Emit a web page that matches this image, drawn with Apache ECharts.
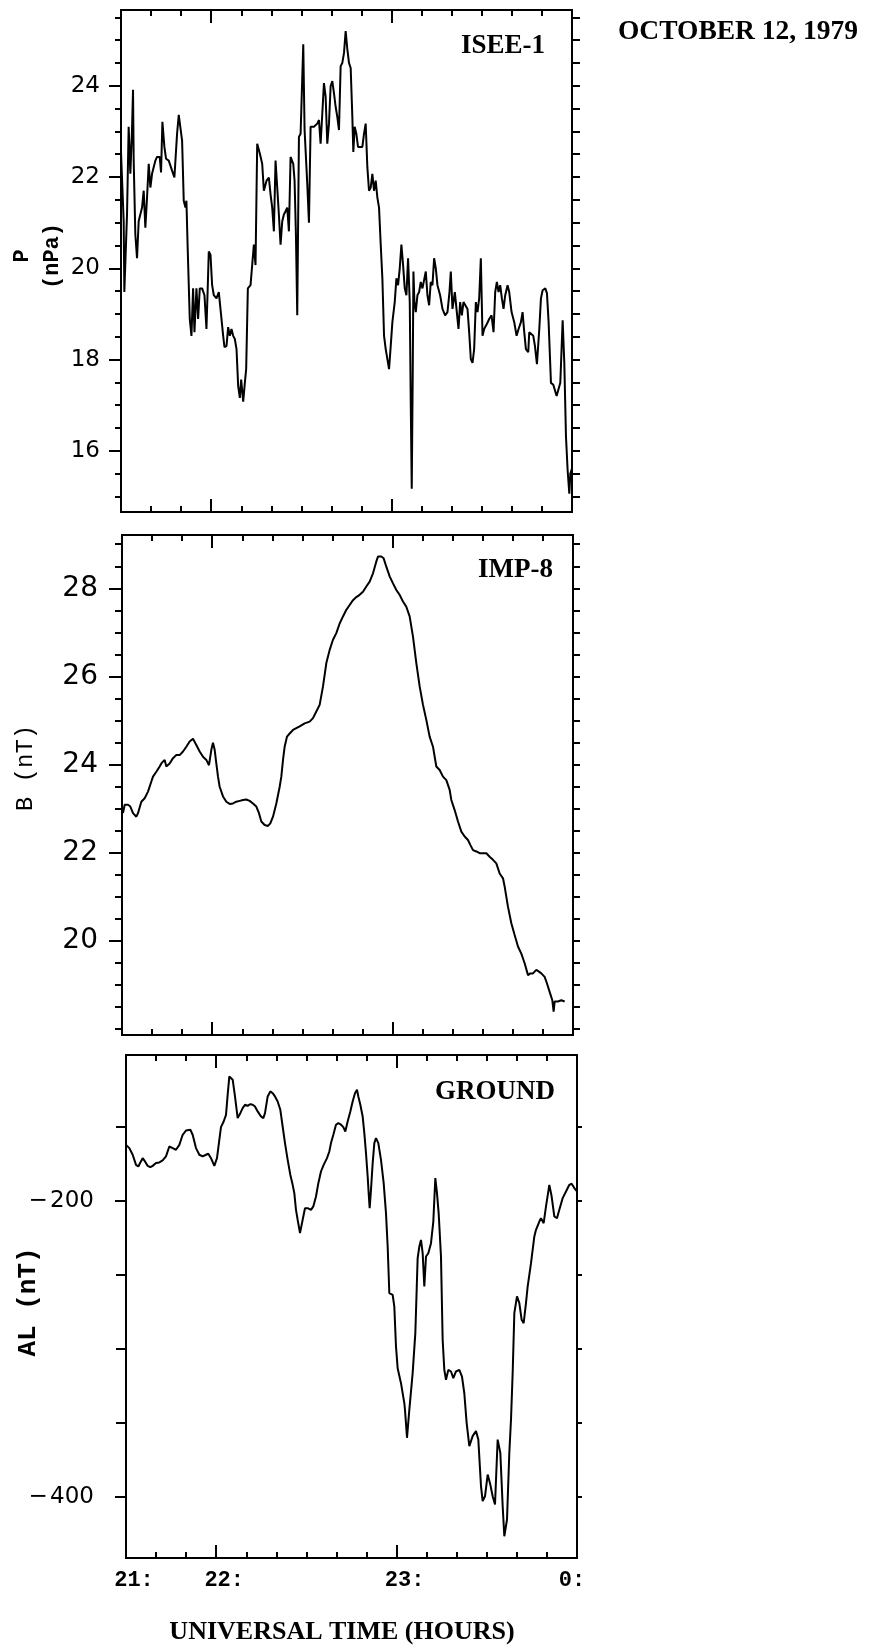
<!DOCTYPE html>
<html>
<head>
<meta charset="utf-8">
<script src="https://cdn.jsdelivr.net/npm/echarts@6/dist/echarts.min.js"></script>
<style>
  html, body { margin: 0; padding: 0; background: #fff; }
  #chart { width: 873px; height: 1649px; }
</style>
</head>
<body>
<div id="chart"></div>
<script>
// time axis: minutes after 21:00 (panel spans 21:30 .. 24:00)
const xMinor = [30, 40, 50, 60, 70, 80, 90, 100, 110, 120, 130, 140, 150, 160, 170, 180];
const xMajor = [60, 120];
const xLabelValues = [30, 60, 120, 180];
const xLabelText = ["21:", "22:", "23:", "{z|0:}"];

const pMajor = [16, 18, 20, 22, 24];
const pMinor = [15, 15.5, 16, 16.5, 17, 17.5, 18, 18.5, 19, 19.5, 20, 20.5, 21, 21.5, 22, 22.5, 23, 23.5, 24, 24.5, 25, 25.5];
const bMajor = [20, 22, 24, 26, 28];
const bMinor = [18, 18.5, 19, 19.5, 20, 20.5, 21, 21.5, 22, 22.5, 23, 23.5, 24, 24.5, 25, 25.5, 26, 26.5, 27, 27.5, 28, 28.5, 29];
const alMajor = [-400, -200];
const alMinor = [-400, -350, -300, -250, -200, -150];

// ISEE-1 solar wind pressure P (nPa)
const pPoints = [
  [30.00,22.55],[30.33,22.51],[30.89,21.03],[31.11,19.48],[32.00,21.18],[32.55,23.10],[33.11,22.07],[33.66,23.03],[34.00,23.91],[34.22,22.36],
  [34.77,20.74],[35.33,20.22],[35.88,21.03],[37.00,21.33],[37.55,21.70],[38.10,20.89],[38.66,21.55],[39.22,22.29],[39.77,21.77],[40.33,22.07],
  [41.44,22.36],[41.99,22.44],[42.88,22.44],[43.32,22.10],[43.77,23.21],[44.43,22.66],[44.99,22.40],[45.88,22.36],[46.99,22.14],[47.76,21.99],
  [48.65,22.95],[49.21,23.36],[49.76,23.32],[50.32,22.80],[50.87,21.48],[51.43,21.33],[51.76,21.48],[52.21,20.37],[52.87,18.89],[53.43,18.52],
  [53.98,19.56],[54.43,18.60],[55.09,19.56],[55.65,18.89],[56.20,19.56],[56.98,19.56],[57.76,19.41],[58.42,18.67],[58.87,19.63],[59.20,20.37],
  [59.76,20.30],[60.31,19.63],[60.87,19.41],[61.75,19.34],[62.53,19.48],[63.09,19.52],[63.98,18.52],[64.42,18.27],[65.09,18.30],[65.64,18.71],
  [66.20,18.52],[66.75,18.67],[67.31,18.52],[67.86,18.45],[68.42,18.23],[68.97,17.42],[69.53,17.16],[69.97,17.56],[70.64,17.08],[71.19,17.49],
  [71.63,17.79],[72.19,19.56],[73.08,19.63],[73.63,20.07],[74.19,20.52],[74.74,20.07],[75.30,22.73],[76.19,22.51],[76.96,22.29],[77.52,21.70],
  [78.41,21.92],[79.18,21.99],[79.74,21.62],[80.29,21.33],[80.85,20.81],[81.40,22.36],[81.96,21.77],[82.51,21.18],[83.07,20.52],[83.63,21.03],
  [84.18,21.18],[84.74,21.25],[85.29,21.33],[85.85,20.81],[86.40,22.44],[87.29,22.29],[87.73,21.92],[88.18,20.74],[88.62,18.97],[89.18,22.88],
  [89.73,22.95],[90.07,23.69],[90.62,24.91],[91.06,23.03],[91.95,21.85],[92.51,21.00],[93.06,23.10],[94.17,23.10],[95.28,23.17],[95.84,23.25],
  [96.39,22.73],[96.95,23.39],[97.50,24.06],[98.06,23.76],[98.61,22.73],[99.17,23.17],[99.72,23.99],[100.28,24.10],[100.83,23.84],[101.39,23.54],
  [101.94,23.32],[102.50,23.03],[103.05,24.43],[103.61,24.50],[104.17,24.72],[104.72,25.20],[105.28,24.80],[105.83,24.50],[106.39,24.39],[106.94,23.32],
  [107.27,22.55],[107.72,23.10],[108.27,22.95],[108.83,22.66],[109.38,22.66],[110.27,22.66],[110.83,22.95],[111.38,23.17],[111.94,22.21],[112.49,21.70],
  [113.05,21.77],[113.60,22.07],[114.16,21.70],[114.71,21.92],[115.27,21.55],[115.82,21.33],[116.38,20.52],[116.93,19.78],[117.49,18.52],[118.04,18.23],
  [118.60,18.01],[119.15,17.79],[119.71,18.30],[120.26,18.82],[121.04,19.26],[121.60,19.78],[122.15,19.63],[122.71,20.00],[123.26,20.52],[123.82,20.07],
  [124.37,19.56],[124.93,19.41],[125.48,20.22],[126.04,19.26],[126.37,17.05],[126.70,15.17],[127.04,17.79],[127.26,19.93],[127.59,19.26],[128.04,19.04],
  [128.59,19.41],[129.15,19.48],[129.70,19.70],[130.26,19.56],[130.81,19.56],[131.37,19.93],[131.92,19.41],[132.48,19.19],[133.03,19.70],[133.59,19.63],
  [134.14,20.22],[134.70,20.00],[135.25,19.63],[136.14,19.41],[136.92,19.11],[137.80,18.97],[138.58,19.04],[139.25,19.48],[139.69,19.93],[140.25,19.11],
  [141.03,19.48],[141.69,19.04],[142.25,18.67],[142.80,19.26],[143.36,18.97],[143.91,19.26],[144.47,19.26],[145.24,19.11],[145.80,18.60],[146.35,18.01],
  [146.91,17.93],[147.46,18.23],[148.02,19.26],[148.57,19.04],[149.13,19.34],[149.68,20.22],[150.24,18.52],[150.79,18.67],[151.68,18.78],[152.46,18.89],
  [153.24,18.97],[153.90,18.60],[154.46,19.48],[155.01,19.70],[155.57,19.48],[156.12,19.63],[156.68,19.34],[157.23,19.11],[157.79,19.41],[158.57,19.63],
  [159.12,19.48],[159.90,19.04],[160.79,18.82],[161.57,18.52],[162.23,18.67],[163.01,18.82],[163.56,19.04],[164.12,18.60],[164.67,18.23],[165.45,18.16],
  [165.78,18.60],[166.34,18.60],[167.12,18.52],[167.67,18.30],[168.34,17.90],[169.12,18.67],[169.67,19.34],[170.23,19.52],[171.12,19.56],[171.67,19.45],
  [172.22,18.82],[173.00,17.49],[173.78,17.45],[174.33,17.42],[174.89,17.20],[175.44,17.23],[176.11,17.49],[176.89,18.86],[177.44,17.93],[178.00,16.31],
  [178.55,15.57],[179.11,15.06],[179.44,15.50],[180.00,15.61]
];

// IMP-8 field magnitude B (nT)
const bPoints = [
  [30.33,22.89],[30.89,23.08],[32.00,23.08],[32.77,23.04],[33.66,22.89],[34.77,22.81],[35.32,22.89],[36.43,23.15],[37.54,23.23],[38.65,23.38],
  [39.76,23.61],[40.31,23.72],[41.42,23.83],[42.53,23.95],[43.08,24.02],[44.19,24.10],[44.74,23.95],[45.85,24.02],[46.96,24.14],[48.07,24.21],
  [49.18,24.21],[50.29,24.29],[51.40,24.40],[52.50,24.52],[53.61,24.58],[54.72,24.44],[55.83,24.29],[56.94,24.17],[58.05,24.10],[58.93,23.98],
  [59.71,24.33],[60.26,24.49],[60.82,24.33],[61.37,24.02],[61.93,23.72],[62.48,23.49],[63.59,23.27],[64.70,23.15],[65.81,23.10],[66.92,23.11],
  [68.02,23.15],[69.13,23.17],[70.24,23.19],[71.35,23.20],[72.46,23.17],[73.57,23.11],[74.68,23.04],[75.56,22.89],[76.34,22.70],[77.45,22.62],
  [78.56,22.60],[79.33,22.66],[80.22,22.81],[81.33,23.11],[82.44,23.49],[82.99,23.72],[83.55,24.10],[84.10,24.40],[84.88,24.63],[85.76,24.70],
  [86.87,24.78],[87.98,24.82],[89.09,24.86],[90.75,24.93],[92.41,24.97],[93.52,25.05],[94.63,25.20],[95.74,25.35],[96.85,25.77],[97.96,26.30],
  [99.07,26.60],[100.17,26.83],[101.28,26.98],[102.39,27.20],[103.50,27.36],[104.61,27.51],[105.72,27.62],[106.83,27.73],[107.94,27.80],[109.04,27.85],
  [110.15,27.92],[111.26,28.04],[112.37,28.15],[113.48,28.34],[114.59,28.61],[115.14,28.72],[116.25,28.72],[117.02,28.68],[117.91,28.49],[119.02,28.27],
  [120.13,28.11],[121.24,27.96],[122.34,27.85],[123.45,27.70],[124.56,27.58],[125.67,27.36],[126.78,26.90],[127.89,26.30],[129.00,25.77],[130.11,25.35],
  [131.21,25.01],[132.32,24.63],[133.43,24.40],[134.54,23.95],[135.65,23.87],[136.76,23.72],[137.87,23.64],[138.98,23.42],[139.53,23.19],[140.64,22.96],
  [141.75,22.70],[142.86,22.47],[143.97,22.36],[145.07,22.28],[145.85,22.17],[146.74,22.05],[147.85,22.02],[148.95,21.98],[150.06,21.98],[151.17,21.98],
  [152.28,21.90],[153.39,21.83],[154.50,21.75],[155.61,21.52],[156.72,21.41],[157.27,21.22],[158.38,20.76],[159.49,20.39],[160.59,20.12],[161.70,19.86],
  [162.81,19.70],[163.92,19.48],[165.03,19.21],[165.80,19.25],[166.69,19.25],[167.80,19.33],[168.68,19.29],[169.46,19.25],[170.57,19.17],[171.35,19.02],
  [172.23,18.83],[173.12,18.64],[173.56,18.38],[173.89,18.61],[175.00,18.61],[176.11,18.64],[177.22,18.61]
];

// ground AL index (nT)
const alPoints = [
  [30.00,-162.2],[31.11,-164.4],[32.22,-168.9],[33.33,-175.7],[34.10,-176.8],[34.77,-174.1],[35.54,-171.2],[36.32,-173.4],[37.21,-176.4],[38.09,-177.3],
  [38.87,-176.4],[39.98,-174.5],[41.09,-174.1],[42.19,-172.7],[43.30,-170.0],[44.41,-163.3],[45.52,-164.4],[46.63,-165.5],[47.74,-162.2],[48.85,-155.4],
  [49.95,-152.5],[51.40,-152.0],[52.17,-155.4],[53.28,-164.4],[54.39,-168.9],[55.50,-170.0],[56.61,-168.9],[57.38,-168.2],[58.27,-171.2],[59.38,-176.4],
  [60.26,-171.2],[61.04,-158.8],[61.59,-150.2],[62.48,-146.4],[63.26,-141.9],[63.81,-128.4],[64.37,-116.0],[64.92,-114.9],[65.48,-118.2],[66.25,-129.5],
  [67.14,-144.1],[68.02,-140.8],[68.80,-137.4],[69.58,-135.1],[70.46,-135.8],[71.35,-134.7],[72.13,-135.1],[72.90,-136.3],[73.79,-139.6],[74.90,-143.0],
  [75.67,-144.1],[76.23,-140.8],[77.12,-129.5],[78.00,-126.1],[78.78,-127.3],[79.55,-129.5],[80.44,-132.9],[81.33,-138.5],[82.10,-149.8],[82.88,-161.0],
  [83.77,-172.3],[84.65,-182.4],[85.43,-189.2],[85.98,-194.8],[86.54,-206.1],[87.09,-212.8],[87.87,-221.8],[88.76,-212.8],[89.53,-205.0],[90.42,-205.0],
  [91.53,-206.1],[92.30,-203.8],[93.19,-197.1],[93.97,-188.1],[94.85,-180.2],[95.74,-175.7],[96.85,-171.2],[97.62,-166.7],[98.18,-161.0],[98.96,-155.4],
  [99.84,-148.6],[100.62,-147.5],[101.51,-148.6],[102.28,-150.2],[102.95,-153.2],[103.72,-146.4],[104.61,-139.6],[105.38,-132.9],[106.16,-127.3],[106.83,-125.0],
  [107.27,-129.5],[107.94,-135.1],[108.71,-143.0],[109.27,-154.3],[109.82,-167.8],[110.38,-183.6],[110.71,-194.8],[111.04,-205.0],[111.48,-192.6],[112.04,-174.5],
  [112.59,-161.0],[113.15,-157.7],[113.92,-161.0],[114.81,-172.3],[115.70,-188.1],[116.47,-208.3],[117.03,-230.9],[117.58,-262.4],[118.69,-263.5],[119.24,-271.4],
  [119.80,-298.4],[120.35,-313.1],[121.46,-323.2],[122.57,-336.7],[122.79,-341.2],[123.46,-360.1],[124.23,-341.2],[125.34,-316.4],[126.23,-289.4],[127.00,-238.7],
  [127.56,-230.9],[128.11,-226.4],[128.67,-235.4],[129.22,-257.9],[129.78,-237.6],[130.55,-235.4],[131.44,-228.6],[132.21,-214.0],[132.88,-184.7],[133.43,-194.8],
  [133.99,-208.3],[134.76,-237.6],[135.32,-293.9],[135.87,-314.2],[136.43,-320.9],[137.20,-314.2],[138.09,-315.3],[138.87,-319.8],[139.75,-315.3],[140.86,-314.2],
  [141.75,-318.7],[142.52,-330.0],[143.30,-350.2],[144.19,-365.8],[145.29,-359.0],[146.40,-355.6],[147.18,-361.3],[148.07,-392.8],[148.62,-402.9],[149.40,-399.6],
  [150.29,-384.9],[151.17,-391.7],[151.95,-399.6],[152.73,-405.2],[153.61,-361.3],[154.50,-370.3],[155.28,-406.3],[155.83,-426.6],[156.72,-415.3],[157.49,-370.3],
  [158.05,-347.7],[158.60,-316.4],[159.16,-275.9],[160.04,-264.6],[160.82,-269.1],[161.59,-280.4],[162.26,-282.7],[163.03,-269.1],[163.59,-257.9],[164.70,-242.1],
  [165.81,-224.1],[166.36,-219.6],[167.47,-214.0],[168.02,-211.7],[168.91,-215.1],[169.69,-203.8],[170.80,-189.2],[171.57,-197.1],[172.46,-210.6],[173.35,-211.7],
  [174.12,-206.1],[175.23,-198.2],[176.34,-193.7],[177.45,-189.2],[178.22,-188.5],[179.11,-191.4],[180.00,-193.7]
];

const black = "#000";
const grids = [
  { left: 121, top: 10, width: 451, height: 502 },
  { left: 122, top: 535, width: 451, height: 500 },
  { left: 126, top: 1055, width: 451, height: 503 },
];

function xAxes(gi, withLabels) {
  const base = {
    gridIndex: gi, type: "value", min: 30, max: 180,
    splitLine: { show: false },
    axisLine: { show: true, onZero: false, lineStyle: { color: black, width: 2 } },
    axisLabel: { show: false },
  };
  const tick = (vals, len) => ({
    show: true, inside: true, length: len, customValues: vals,
    lineStyle: { color: black, width: 2 },
  });
  const bottomMinor = Object.assign({}, base, { position: "bottom", axisTick: tick(xMinor, 6) });
  if (withLabels) {
    bottomMinor.axisLabel = {
      show: true,
      customValues: xLabelValues,
      formatter: (v) => xLabelText[xLabelValues.indexOf(v)],
      fontFamily: "Liberation Mono",
      fontWeight: "bold",
      fontSize: 22,
      color: black,
      margin: 11,
      padding: [0, 0, 0, 16],
      rich: { z: { fontFamily: "Liberation Mono", fontWeight: "bold", fontSize: 22, color: black, padding: [0, 26, 0, 0] } },
    };
  }
  return [
    bottomMinor,
    Object.assign({}, base, { position: "bottom", axisTick: tick(xMajor, 13) }),
    Object.assign({}, base, { position: "top", axisTick: tick(xMinor, 6) }),
    Object.assign({}, base, { position: "top", axisTick: tick(xMajor, 13) }),
  ];
}

function yAxes(gi, min, max, major, minor, s) {
  const base = {
    gridIndex: gi, type: "value", min: min, max: max,
    splitLine: { show: false },
    axisLine: { show: true, onZero: false, lineStyle: { color: black, width: 2 } },
    axisLabel: { show: false },
  };
  const tick = (vals, len) => ({
    show: true, inside: false, length: len, customValues: vals,
    lineStyle: { color: black, width: 2 },
  });
  return [
    Object.assign({}, base, { position: "left", axisTick: tick(minor, s.minorLen) }),
    Object.assign({}, base, {
      position: "left",
      axisTick: tick(major, s.majorLen),
      axisLabel: {
        show: true,
        customValues: major,
        formatter: s.fmt,
        fontFamily: "DejaVu Sans",
        fontSize: s.fontSize,
        color: black,
        margin: s.margin,
      },
    }),
    Object.assign({}, base, { position: "right", axisTick: tick(minor, s.rightLen) }),
  ];
}

const xAxis = [].concat(xAxes(0, false), xAxes(1, false), xAxes(2, true));
const yAxis = [].concat(
  yAxes(0, 14.66, 25.66, pMajor, pMinor, { minorLen: 6, majorLen: 12, rightLen: 8, fontSize: 23, margin: 21, fmt: (v) => String(v) }),
  yAxes(1, 17.85, 29.21, bMajor, bMinor, { minorLen: 7, majorLen: 13, rightLen: 7, fontSize: 28, margin: 24, fmt: (v) => String(v) }),
  yAxes(2, -441.3, -101.5, alMajor, alMinor, { minorLen: 10, majorLen: 11, rightLen: 5, fontSize: 23, margin: 32, fmt: (v) => "\u2212\u200a" + Math.abs(v) })
);

function lineSeries(gi, pts) {
  return {
    type: "line",
    xAxisIndex: gi * 4,
    yAxisIndex: gi * 3 + 1,
    data: pts,
    symbol: "none",
    lineStyle: { color: black, width: 2 },
    silent: true,
  };
}

const serifBold = { fontFamily: "Liberation Serif", fontWeight: "bold", fill: black };
function label(x, y, text, opts) {
  return {
    type: "text", x: x, y: y, rotation: opts.rotation || 0,
    style: Object.assign({ text: text, align: opts.align || "center", verticalAlign: "middle" }, opts.style),
  };
}

const option = {
  animation: false,
  backgroundColor: "#fff",
  grid: grids,
  xAxis: xAxis,
  yAxis: yAxis,
  series: [lineSeries(0, pPoints), lineSeries(1, bPoints), lineSeries(2, alPoints)],
  graphic: [
    label(738, 32, "OCTOBER 12, 1979", { style: Object.assign({ fontSize: 27.5 }, serifBold) }),
    label(545, 46, "ISEE-1", { align: "right", style: Object.assign({ fontSize: 27 }, serifBold) }),
    label(553, 570, "IMP-8", { align: "right", style: Object.assign({ fontSize: 27 }, serifBold) }),
    label(555, 1092, "GROUND", { align: "right", style: Object.assign({ fontSize: 27 }, serifBold) }),
    label(342, 1632, "UNIVERSAL TIME (HOURS)", { style: Object.assign({ fontSize: 26 }, serifBold) }),
    label(37, 256, "P\n(nPa)", { rotation: Math.PI / 2, style: { fontFamily: "Liberation Mono", fontWeight: "bold", fontSize: 22, lineHeight: 30, fill: black } }),
    label(26, 768, "B (nT)", { rotation: Math.PI / 2, style: { fontFamily: "Liberation Mono", fontSize: 24, fill: black } }),
    label(28, 1302, "AL (nT)", { rotation: Math.PI / 2, style: { fontFamily: "Liberation Mono", fontWeight: "bold", fontSize: 26, fill: black } }),
  ],
};

const chart = echarts.init(document.getElementById("chart"), null, { renderer: "canvas" });
chart.setOption(option);
</script>
</body>
</html>
